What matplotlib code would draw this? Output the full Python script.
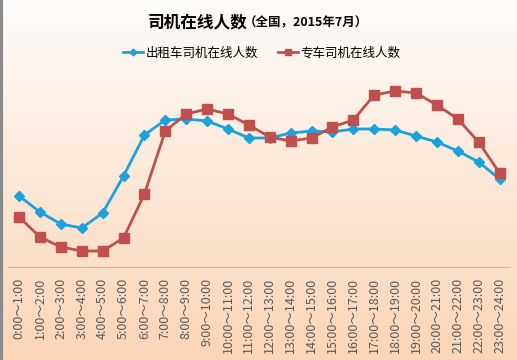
import numpy as np
import matplotlib.pyplot as plt
from matplotlib.lines import Line2D

plt.rcParams['font.family'] = ['Noto Sans CJK SC', 'DejaVu Sans']

hours = [f'{h}:00～{h + 1}:00' for h in range(24)]
taxi = [71, 55, 43, 39, 54, 91, 132, 147, 148, 146, 138, 129,
        129, 134, 136, 135, 138, 138, 137, 131, 125, 116, 105, 88]
premium = [50, 30, 20, 16, 16, 29, 73, 136, 153, 158, 153, 142,
           130, 126, 129, 140, 147, 172, 176, 174, 162, 148, 125, 94]

fig = plt.figure(figsize=(5.17, 3.6), dpi=100)

# background gradient
bg = fig.add_axes([0, 0, 1, 1], zorder=-1)
top = np.array([254, 252, 250]) / 255
bot = np.array([251, 213, 182]) / 255
t = np.linspace(0, 1, 256)[:, None]
grad = top + (bot - top) * t
bg.imshow(grad[:, None, :], aspect='auto', extent=[0, 1, 0, 1])
bg.axis('off')
bg.axvline(0.002, color='#8a8a8a', lw=3)

ax = fig.add_axes([8 / 517, 93 / 360, 502 / 517, 200 / 360])
ax.patch.set_alpha(0)
x = np.arange(24)
ax.plot(x, taxi, color='#1ba1dc', lw=2, marker='D', ms=5, label='出租车司机在线人数')
ax.plot(x, premium, color='#c0504d', lw=2, marker='s', ms=6.5, label='专车司机在线人数')
ax.set_xlim(-0.53, 23.5)
ax.set_ylim(0, 200)
ax.set_yticks([])
for s in ['top', 'right', 'left']:
    ax.spines[s].set_visible(False)
ax.spines['bottom'].set_color('#c8b8ac')
ax.set_xticks(x)
ax.set_xticklabels(hours, rotation=90, fontsize=9, color='#595959', va='top')
ax.tick_params(axis='x', length=0, pad=8)

fig.text(0.478, 0.938, '司机在线人数', fontsize=12, fontweight='bold', ha='right', va='center')
fig.text(0.472, 0.936, '（全国，2015年7月）', fontsize=9, fontweight='bold', ha='left', va='center')

handles = [Line2D([], [], color='#1ba1dc', lw=2, marker='D', ms=3.5),
           Line2D([], [], color='#c0504d', lw=2, marker='s', ms=4.5)]
fig.legend(handles, ['出租车司机在线人数', '专车司机在线人数'], loc='center',
           bbox_to_anchor=(0.506, 0.853), ncol=2, frameon=False, fontsize=9,
           handlelength=1.6, handletextpad=0.2, columnspacing=1.6)

fig.savefig('out.png', dpi=100)
